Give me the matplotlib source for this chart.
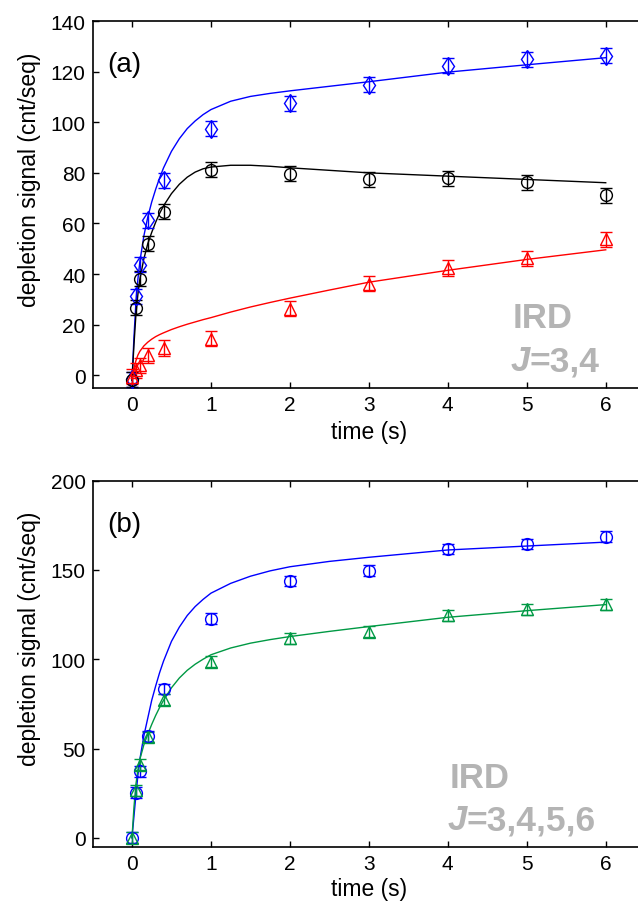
import matplotlib
matplotlib.use('Agg')
import matplotlib.pyplot as plt

plt.rcParams['font.family'] = ['Liberation Sans', 'DejaVu Sans']

# measured time points (s)
t_pts = [0, 0.05, 0.1, 0.2, 0.4, 1, 2, 3, 4, 5, 6]

# panel (a) data
a_blue = [-1.5, 31.3, 43.7, 61.2, 77.0, 97.4, 107.5, 114.9, 122.4, 124.8, 126.3]
a_black = [-1.8, 26.7, 38.2, 52.0, 64.7, 81.2, 79.6, 77.4, 77.9, 76.3, 71.1]
a_red = [-0.6, 2.0, 3.9, 7.9, 10.8, 14.5, 26.3, 36.2, 42.4, 46.3, 53.7]
a_err = [3, 3, 3, 3, 3, 3, 3, 3, 3, 3, 3]

# panel (b) data
b_blue = [0, 25.2, 37.2, 56.8, 83.3, 122.8, 143.8, 149.6, 161.7, 164.5, 168.6]
b_green = [0, 26.5, 41.0, 56.5, 77.3, 98.7, 111.8, 115.5, 124.5, 128.0, 130.8]
b_err = [3, 3, 3, 3, 3, 3, 3, 3, 3, 3, 3]

# fit curves
fit_t = [0, 0.025, 0.05, 0.075, 0.1, 0.15, 0.2, 0.25, 0.3, 0.35, 0.4, 0.5,
         0.6, 0.7, 0.8, 0.9, 1.0, 1.25, 1.5, 1.75, 2, 2.5, 3, 4, 5, 6]
fit_a_blue = [-2, 15, 29, 38, 45, 55, 62.5, 68.5, 73.5, 78, 82, 88.5,
              93.5, 97.5, 100.5, 103, 105, 108.3, 110.2, 111.4, 112.4,
              114.2, 116, 119.8, 122.7, 125.5]
fit_a_black = [-2, 12, 24, 32, 38, 46, 52, 56.5, 60.5, 64, 67, 71.8,
               75.5, 78.3, 80.3, 81.6, 82.3, 83, 83, 82.6, 82,
               81, 80, 78.7, 77.4, 76.1]
fit_a_red = [-1, 3, 5.8, 8, 9.5, 11.6, 13.1, 14.3, 15.3, 16.1, 16.8, 18.1,
             19.2, 20.2, 21.1, 22, 22.8, 25, 27, 28.8, 30.5,
             33.7, 36.8, 41.5, 45.8, 49.6]
fit_b_blue = [0, 12, 24, 35, 44, 57, 67, 77, 85, 92.5, 99, 110,
              118, 124.5, 129.5, 133.5, 137, 142.5, 146.5, 149.5, 151.8,
              154.8, 157.1, 161.2, 163.4, 165.6]
fit_b_green = [0, 17, 30, 38, 44, 52, 58, 63.5, 68.5, 73, 77, 84,
               89.5, 93.8, 97.2, 100, 102.5, 106.3, 109, 111, 112.7,
               115.6, 118.3, 123.5, 127.2, 130.6]

BLUE = '#0000ff'
RED = '#ff0000'
GREEN = '#009944'
GRAY = '#b4b4b4'

W, H = 638, 904
fig = plt.figure(figsize=(W / 100, H / 100), dpi=100)

left = 92.5 / W
width = (645.2 - 92.5) / W
ax1 = fig.add_axes([left, 1 - 389 / H, width, (389 - 22) / H])
ax2 = fig.add_axes([left, 1 - 847.7 / H, width, (847.7 - 481.7) / H])


def series(ax, y, err, marker, color, ms):
    ax.errorbar(t_pts, y, yerr=err, fmt=marker, mfc='none', mec=color,
                ecolor=color, ms=ms, mew=1.0, elinewidth=1.0, capsize=4,
                capthick=1.0, zorder=3)


def style(ax):
    ax.set_xlim(-0.5, 6.5)
    ax.set_xticks(range(0, 7))
    ax.tick_params(direction='in', top=True, right=True, length=4,
                   width=1, labelsize=15, pad=5)
    for s in ax.spines.values():
        s.set_linewidth(1.2)
    ax.set_ylabel('depletion signal (cnt/seq)', fontsize=16.5)
    ax.yaxis.set_label_coords(-0.093, 0.57)


def ird_label(ax, x, y1, y2, jtext):
    ax.text(x + 0.004, y1, 'IRD', transform=ax.transAxes, fontsize=25,
            fontweight='bold', color=GRAY, ha='left', va='center')
    j = ax.text(x, y2, 'J', transform=ax.transAxes, fontsize=25,
                fontweight='bold', style='italic', color=GRAY,
                ha='left', va='center')
    ax.annotate(jtext, xy=(0.95, 0), xycoords=j, fontsize=25.5,
                fontweight='bold', color=GRAY, ha='left', va='bottom')


# panel (a)
ax1.plot(fit_t, fit_a_blue, color=BLUE, lw=1)
ax1.plot(fit_t, fit_a_black, color='black', lw=1)
ax1.plot(fit_t, fit_a_red, color=RED, lw=1)
series(ax1, a_blue, a_err, 'd', BLUE, 9.5)
series(ax1, a_black, a_err, 'o', 'black', 8.5)
series(ax1, a_red, a_err, '^', RED, 8.5)
ax1.set_ylim(-5, 140)
ax1.set_yticks(range(0, 141, 20))
style(ax1)
ax1.set_xlabel('time (s)', fontsize=16.5)
ax1.xaxis.set_label_coords(0.5, -0.088)
ax1.text(0.026, 0.883, '(a)', transform=ax1.transAxes, fontsize=20,
         ha='left', va='center')
ird_label(ax1, 0.757, 0.191, 0.074, '=3,4')

# panel (b)
ax2.plot(fit_t, fit_b_blue, color=BLUE, lw=1)
ax2.plot(fit_t, fit_b_green, color=GREEN, lw=1)
series(ax2, b_blue, b_err, 'o', BLUE, 8.5)
series(ax2, b_green, b_err, '^', GREEN, 8.5)
ax2.set_ylim(-5, 200)
ax2.set_yticks(range(0, 201, 50))
style(ax2)
ax2.set_xlabel('time (s)', fontsize=16.5)
ax2.xaxis.set_label_coords(0.5, -0.082)
ax2.text(0.026, 0.882, '(b)', transform=ax2.transAxes, fontsize=20,
         ha='left', va='center')
ird_label(ax2, 0.643, 0.19, 0.073, '=3,4,5,6')

fig.savefig('out.png', dpi=100)
